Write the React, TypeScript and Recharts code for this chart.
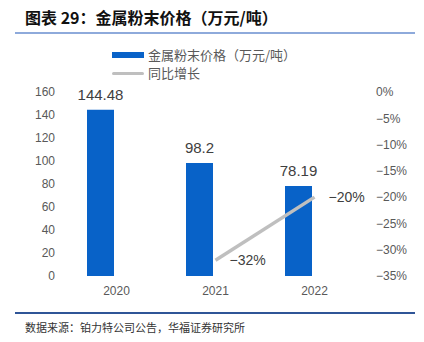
import React from "react";
import { ComposedChart, Bar, Line, XAxis, YAxis, LabelList, Customized } from "recharts";

const years = ["2020", "2021", "2022"];
const prices = [144.48, 98.2, 78.19];
const growth: (number | null)[] = [null, -0.32, -0.2];
const leftTicks = [0, 20, 40, 60, 80, 100, 120, 140, 160];
const rightTicks = [0, -0.05, -0.1, -0.15, -0.2, -0.25, -0.3, -0.35];
const priceName = "金属粉末价格（万元/吨）";
const growthName = "同比增长";
const title = "图表 29：金属粉末价格（万元/吨）";
const source = "数据来源：铂力特公司公告，华福证券研究所";

const data = years.map((y, i) => ({ year: y, price: prices[i], pad: null, growth: growth[i] }));

const pct = (v: number) => {
  const n = Math.round(v * 100);
  return n === 0 ? "0%" : (n < 0 ? "\u2212" : "") + Math.abs(n) + "%";
};

const tickStyle = { fontSize: 12, fill: "#595959", fontFamily: "Liberation Sans, Arial, sans-serif" };

const LegendBox = () => (
  <div style={{ position: "absolute", left: 112, top: 46, fontFamily: "Noto Sans CJK SC, sans-serif", fontSize: 13, color: "#595959", lineHeight: "18px" }}>
    <div style={{ display: "flex", alignItems: "center" }}>
      <span style={{ display: "inline-block", width: 32, height: 6, background: "#0862C8", marginRight: 4 }} />
      {priceName}
    </div>
    <div style={{ display: "flex", alignItems: "center" }}>
      <span style={{ display: "inline-block", width: 32, height: 3, background: "#BFBFBF", borderRadius: 2, marginRight: 4 }} />
      {growthName}
    </div>
  </div>
);

const BaseLine = (props: any) => {
  const { offset } = props;
  if (!offset) return null;
  const y = offset.top + offset.height;
  return <line x1={offset.left} x2={offset.left + offset.width} y1={y} y2={y} stroke="#D9D9D9" strokeWidth={1} />;
};

export default function App() {
  return (
    <div style={{ position: "absolute", left: 0, top: 0, width: 424, height: 342, background: "#fff" }}>
      <div style={{ position: "absolute", left: 25, top: 7, fontFamily: "Noto Sans CJK SC, sans-serif", fontWeight: 700, fontSize: 16, color: "#111", whiteSpace: "nowrap", lineHeight: "20px" }}>
        {title}
      </div>
      <div style={{ position: "absolute", left: 15, top: 32, width: 400, height: 2, background: "#8EAADB" }} />
      <ComposedChart width={424} height={342} data={data} margin={{ top: 92, right: 0, bottom: 36, left: 0 }} barGap={6}>
        <XAxis dataKey="year" axisLine={false} tickLine={false} tick={tickStyle} height={30} tickMargin={4} />
        <YAxis yAxisId="left" domain={[0, 160]} ticks={leftTicks} width={67} axisLine={false} tickLine={false} tick={tickStyle} tickMargin={6} interval={0} />
        <YAxis yAxisId="right" orientation="right" domain={[-0.35, 0]} ticks={rightTicks} width={60} axisLine={false} tickLine={false} tick={tickStyle} tickMargin={6} tickFormatter={pct} interval={0} />
        <Customized component={BaseLine} />
        <Bar yAxisId="left" dataKey="price" name={priceName} fill="#0862C8" barSize={27} isAnimationActive={false}>
          <LabelList dataKey="price" position="top" offset={10} style={{ fontSize: 15, fill: "#404040", fontFamily: "Liberation Sans, Arial, sans-serif" }} />
        </Bar>
        <Bar yAxisId="left" dataKey="pad" fill="none" barSize={27} isAnimationActive={false} legendType="none" />
        <Line yAxisId="right" dataKey="growth" name={growthName} stroke="#BFBFBF" strokeWidth={3.5} dot={false} isAnimationActive={false}>
          <LabelList dataKey="growth" position="right" offset={14} formatter={(v: any) => (v == null ? "" : pct(v))} style={{ fontSize: 14, fill: "#404040", fontFamily: "Liberation Sans, Arial, sans-serif" }} />
        </Line>
      </ComposedChart>
      <LegendBox />
      <div style={{ position: "absolute", left: 15, top: 312, width: 400, height: 2, background: "#2F5597" }} />
      <div style={{ position: "absolute", left: 25, top: 319, fontFamily: "Noto Sans CJK SC, sans-serif", fontSize: 11, color: "#333", whiteSpace: "nowrap", lineHeight: "16px" }}>
        {source}
      </div>
    </div>
  );
}
